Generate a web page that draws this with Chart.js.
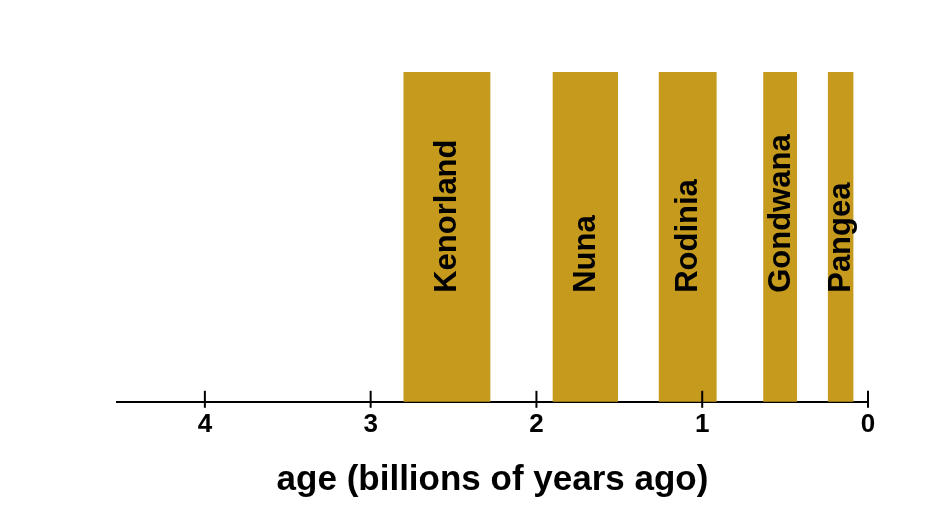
<!DOCTYPE html>
<html>
<head>
<meta charset="utf-8">
<script src="https://cdn.jsdelivr.net/npm/chart.js@4"></script>
<style>
  html, body { margin: 0; padding: 0; background: #fff; }
  #wrap { width: 936px; height: 528px; }
</style>
</head>
<body>
<div id="wrap"><canvas id="chart"></canvas></div>
<script>
// Supercontinents, ages in billions of years ago
const names = ['Kenorland', 'Nuna', 'Rodinia', 'Gondwana', 'Pangea'];
const startAge = [2.8, 1.9, 1.26, 0.63, 0.24];
const endAge = [2.28, 1.51, 0.915, 0.43, 0.09];
const tickValues = [4, 3, 2, 1, 0];
const earthAge = 4.53;

const barColor = '#c59a1d';
const font = "'Liberation Sans', Arial, sans-serif";

// Tick marks that cross the axis line
const crossTicks = {
    id: 'crossTicks',
    afterDraw(chart) {
        const ctx = chart.ctx;
        const x = chart.scales.x;
        const y0 = chart.chartArea.bottom;
        ctx.save();
        ctx.strokeStyle = '#000';
        ctx.lineWidth = 2;
        tickValues.forEach(v => {
            const px = x.getPixelForValue(v);
            ctx.beginPath();
            ctx.moveTo(px, y0 - 11);
            ctx.lineTo(px, y0 + 6);
            ctx.stroke();
        });
        ctx.restore();
    }
};

// Rotated names inside the bars
const barNames = {
    id: 'barNames',
    afterDatasetsDraw(chart) {
        const ctx = chart.ctx;
        const meta = chart.getDatasetMeta(0);
        const yStart = chart.chartArea.bottom - 109;
        ctx.save();
        ctx.fillStyle = '#000';
        ctx.font = 'bold 31px ' + font;
        ctx.textAlign = 'left';
        ctx.textBaseline = 'middle';
        meta.data.forEach((bar, i) => {
            const cx = (bar.x + bar.base) / 2;
            ctx.save();
            ctx.translate(cx, yStart);
            ctx.rotate(-Math.PI / 2);
            ctx.fillText(names[i], 0, 1);
            ctx.restore();
        });
        ctx.restore();
    }
};

new Chart(document.getElementById('chart'), {
    type: 'bar',
    data: {
        labels: ['all'],
        datasets: [{
            data: names.map((n, i) => ({ x: [startAge[i], endAge[i]], y: 'all' })),
            backgroundColor: barColor,
            borderWidth: 0,
            barPercentage: 1,
            categoryPercentage: 1
        }]
    },
    options: {
        indexAxis: 'y',
        responsive: true,
        maintainAspectRatio: false,
        animation: false,
        layout: { padding: { left: 117, right: 68, top: 72, bottom: 27 } },
        plugins: {
            legend: { display: false },
            tooltip: { enabled: false }
        },
        scales: {
            y: { display: false },
            x: {
                type: 'linear',
                reverse: true,
                min: 0,
                max: earthAge,
                grid: { display: false },
                border: { display: true, color: '#000', width: 2 },
                afterBuildTicks: scale => {
                    scale.ticks = tickValues.map(v => ({ value: v }));
                },
                ticks: {
                    color: '#000',
                    padding: -1,
                    maxRotation: 0,
                    font: { family: font, size: 26, weight: 'bold' }
                },
                title: {
                    display: true,
                    text: 'age (billions of years ago)',
                    color: '#000',
                    padding: { top: 20, bottom: 0 },
                    font: { family: font, size: 35, weight: 'bold' }
                }
            }
        }
    },
    plugins: [crossTicks, barNames]
});
</script>
</body>
</html>
